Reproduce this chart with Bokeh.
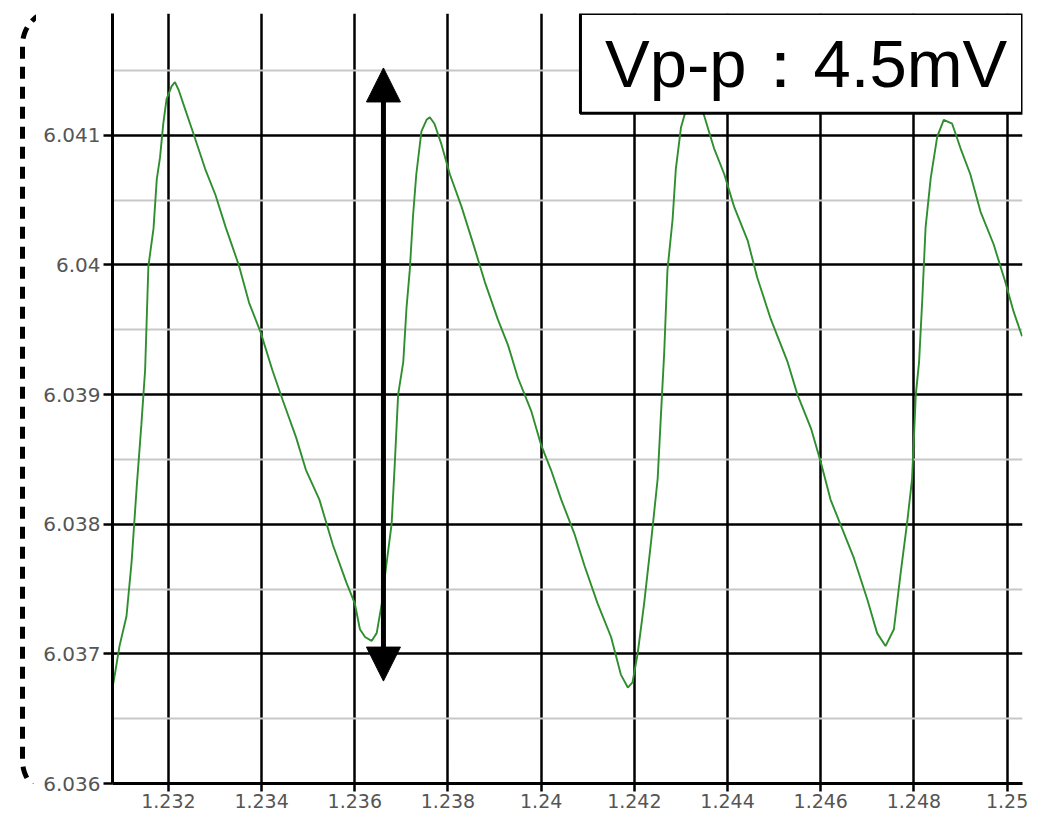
import numpy as np
from bokeh.plotting import figure
from bokeh.layouts import row
from bokeh.models import (FixedTicker, Range1d, BoxAnnotation, Label, Arrow, NormalHead)
from bokeh.embed import file_html
from bokeh.resources import INLINE

# ---- data ----
t = [1.23080, 1.23085, 1.23095, 1.23110, 1.23121, 1.23132, 1.23142, 1.23150,
     1.23157, 1.23168, 1.23175, 1.23182, 1.23189, 1.23196, 1.23207, 1.23214,
     1.23222, 1.23236, 1.23254, 1.23279, 1.23301, 1.23323, 1.23351, 1.23373,
     1.23398, 1.23423, 1.23445, 1.23474, 1.23495, 1.23524, 1.23553, 1.23582,
     1.23600, 1.23611, 1.23622, 1.23636, 1.23647, 1.23658, 1.23665, 1.23679,
     1.23686, 1.23693, 1.23704, 1.23711, 1.23718, 1.23725, 1.23732, 1.23743,
     1.23754, 1.23761, 1.23771, 1.23786, 1.23804, 1.23829, 1.23857, 1.23879,
     1.23907, 1.23929, 1.23950, 1.23979, 1.24000, 1.24021, 1.24043, 1.24071,
     1.24093, 1.24121, 1.24150, 1.24171, 1.24186, 1.24196, 1.24207, 1.24221,
     1.24236, 1.24250, 1.24257, 1.24264, 1.24271, 1.24282, 1.24289, 1.24300,
     1.24307, 1.24318, 1.24330, 1.24342, 1.24350, 1.24371, 1.24393, 1.24414,
     1.24443, 1.24464, 1.24493, 1.24529, 1.24550, 1.24579, 1.24600, 1.24621,
     1.24650, 1.24671, 1.24700, 1.24721, 1.24739, 1.24757, 1.24771, 1.24786,
     1.24796, 1.24804, 1.24811, 1.24818, 1.24825, 1.24836, 1.24850, 1.24864,
     1.24882, 1.24900, 1.24921, 1.24943, 1.24971, 1.24996, 1.25014, 1.25032]
v = [6.03674, 6.03684, 6.03706, 6.03729, 6.03771, 6.03829, 6.03877, 6.03919,
     6.03999, 6.04028, 6.04066, 6.04083, 6.04109, 6.04128, 6.04138, 6.04141,
     6.04135, 6.04120, 6.04101, 6.04074, 6.04054, 6.04029, 6.04000, 6.03971,
     6.03948, 6.03919, 6.03896, 6.03867, 6.03842, 6.03819, 6.03784, 6.03755,
     6.03739, 6.03719, 6.03713, 6.03710, 6.03716, 6.03739, 6.03761, 6.03800,
     6.03848, 6.03900, 6.03925, 6.03967, 6.03996, 6.04038, 6.04070, 6.04103,
     6.04112, 6.04114, 6.04109, 6.04093, 6.04070, 6.04045, 6.04013, 6.03987,
     6.03958, 6.03938, 6.03913, 6.03887, 6.03861, 6.03842, 6.03819, 6.03793,
     6.03768, 6.03739, 6.03713, 6.03684, 6.03674, 6.03678, 6.03700, 6.03739,
     6.03787, 6.03835, 6.03884, 6.03932, 6.03996, 6.04035, 6.04074, 6.04106,
     6.04115, 6.04125, 6.04130, 6.04122, 6.04115, 6.04090, 6.04070, 6.04045,
     6.04019, 6.03990, 6.03958, 6.03925, 6.03900, 6.03874, 6.03848, 6.03819,
     6.03793, 6.03774, 6.03742, 6.03716, 6.03706, 6.03719, 6.03761, 6.03803,
     6.03835, 6.03900, 6.03925, 6.03974, 6.04029, 6.04067, 6.04099, 6.04112,
     6.04109, 6.04090, 6.04070, 6.04041, 6.04016, 6.03987, 6.03964, 6.03945]

x_ticks = [1.232, 1.234, 1.236, 1.238, 1.24, 1.242, 1.244, 1.246, 1.248, 1.25]
x_tick_labels = ["1.232", "1.234", "1.236", "1.238", "1.24", "1.242", "1.244",
                 "1.246", "1.248", "1.25"]
y_ticks = [6.036, 6.037, 6.038, 6.039, 6.04, 6.041]
y_tick_labels = ["6.036", "6.037", "6.038", "6.039", "6.04", "6.041"]
y_minor = [6.0365, 6.0375, 6.0385, 6.0395, 6.0405, 6.0415]

vpp_text = "Vp-p：4.5mV"
arrow_x = 1.236615
arrow_low = 6.03679
arrow_high = 6.04152

X0, X1 = 1.23080, 1.25033
Y0, Y1 = 6.036, 6.04194

LEFT_W = 36
p = figure(width=1037 - LEFT_W, height=810, x_range=Range1d(X0, X1),
           y_range=Range1d(Y0, Y1), output_backend="svg", toolbar_location=None,
           min_border_left=112 - LEFT_W, min_border_right=15, min_border_top=13,
           min_border_bottom=20)
p.outline_line_color = None
p.background_fill_color = "white"
p.border_fill_color = "white"

xt = FixedTicker(ticks=x_ticks, minor_ticks=[])
yt = FixedTicker(ticks=y_ticks, minor_ticks=y_minor)
p.xaxis.ticker = xt
p.yaxis.ticker = yt
p.xgrid.ticker = xt
p.ygrid.ticker = yt
p.xaxis.major_label_overrides = dict(zip(x_ticks, x_tick_labels))
p.yaxis.major_label_overrides = dict(zip(y_ticks, y_tick_labels))

for ax in (p.xaxis, p.yaxis):
    ax.axis_line_color = "black"
    ax.axis_line_width = 3
    ax.major_tick_line_color = "black"
    ax.major_tick_line_width = 2.5
    ax.major_tick_in = 0
    ax.minor_tick_line_color = None
    ax.major_label_text_font = "DejaVu Sans"
    ax.major_label_text_color = "#555555"
p.xaxis.major_label_text_font_size = "19px"
p.yaxis.major_label_text_font_size = "20px"
p.xaxis.major_tick_out = 8
p.xaxis.major_label_standoff = 2
p.yaxis.major_tick_out = 9
p.yaxis.major_label_standoff = 3

for g in (p.xgrid, p.ygrid):
    g.grid_line_color = "black"
    g.grid_line_width = 2.5
p.ygrid.minor_grid_line_color = "#c8c8c8"
p.ygrid.minor_grid_line_width = 2

p.line(t, v, line_color="#2f8f2f", line_width=1.9)

# annotation box with Vp-p text
box_left = 1.240843
box_bottom = 6.04117
p.add_layout(BoxAnnotation(left=box_left, right=X1, top=Y1, bottom=box_bottom,
                           fill_color="white", fill_alpha=1.0, line_color="black",
                           line_width=3, line_alpha=1.0))
p.add_layout(Label(x=(box_left + X1) / 2 + 0.00010, y=(Y1 + box_bottom) / 2,
                   text=vpp_text, text_align="center", text_baseline="middle",
                   text_font_size="67px", text_font="Liberation Sans",
                   text_color="black"))

# double-headed arrow (peak-to-peak span)
p.add_layout(Arrow(start=NormalHead(size=34, fill_color="black", line_color="black"),
                   end=NormalHead(size=34, fill_color="black", line_color="black"),
                   x_start=arrow_x, y_start=arrow_low, x_end=arrow_x, y_end=arrow_high,
                   line_width=5, line_color="black"))

# narrow strip at left with the dashed rounded outline
q = figure(width=LEFT_W, height=810, x_range=Range1d(0, LEFT_W),
           y_range=Range1d(810, 0), output_backend="svg", toolbar_location=None,
           min_border=0)
q.axis.visible = False
q.grid.visible = False
q.outline_line_color = None
a1 = np.linspace(-np.pi / 2, -np.pi, 16)
a2 = np.linspace(np.pi, np.pi / 2, 16)
bx = list(60 + 38 * np.cos(a1)) + list(62 + 40 * np.cos(a2))
by = list(33 + 38 * np.sin(a1)) + list(786 + 40 * np.sin(a2))
q.line(bx, by, line_color="black", line_width=5, line_dash="12 8")

layout = row(q, p, spacing=0)
open("out.html", "w").write(file_html(layout, INLINE))
